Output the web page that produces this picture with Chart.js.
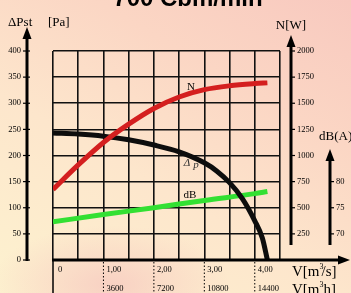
<!DOCTYPE html>
<html><head><meta charset="utf-8">
<script src="https://cdn.jsdelivr.net/npm/chart.js@4/dist/chart.umd.min.js"></script>
<style>
html,body{margin:0;padding:0;}
body{width:351px;height:293px;overflow:hidden;
background:
 radial-gradient(ellipse 120px 60px at 110px 285px, rgba(246,196,190,0.7), rgba(246,196,190,0)),
 linear-gradient(30deg,#fdf2cf 0%,#fde6cc 40%,#fbd6c4 70%,#f8c9bf 100%);}
#wrap{position:absolute;left:0;top:0;width:351px;height:293px;}
</style></head>
<body><div id="wrap"><canvas id="c" width="351" height="293"></canvas></div>
<script>
// ---- data ----
const flowPressure = [0, 0.5, 1, 1.5, 2, 2.5, 3, 3.25, 3.5, 3.75, 4, 4.15, 4.25];
const pressurePa  = [243, 241, 237, 230, 220, 207, 186, 170, 148, 118, 75, 42, 0];
const flowPower   = [0, 0.5, 1, 1.5, 2, 2.5, 3, 3.5, 4, 4.25];
const powerW      = [675, 910, 1125, 1300, 1450, 1560, 1630, 1667, 1688, 1695];
const flowNoise   = [0, 1, 2, 3, 4, 4.25];
const noiseDB     = [72.3, 73.7, 75.0, 76.4, 77.7, 78.1];

const paTicks   = [0, 50, 100, 150, 200, 250, 300, 350, 400];
const nTicks    = [250, 500, 750, 1000, 1250, 1500, 1750, 2000];
const dbTicks   = [70, 75, 80];
const flowTickValues = [0, 1, 2, 3, 4];
const flowTickLabels = ['0', '1,00', '2,00', '3,00', '4,00'];
const flowHourLabels = ['', '3600', '7200', '10800', '14400'];

const title = '700 Cbm/min';
const serif = '"Liberation Serif","DejaVu Serif",serif';

function pts(xs, ys){ return xs.map((x,i)=>({x:x, y:ys[i]})); }

function arrowUp(ctx, x, y){
  ctx.beginPath(); ctx.moveTo(x, y); ctx.lineTo(x-4.5, y+12); ctx.lineTo(x+4.5, y+12); ctx.closePath(); ctx.fill();
}
function arrowRight(ctx, x, y){
  ctx.beginPath(); ctx.moveTo(x, y); ctx.lineTo(x-12, y-4.5); ctx.lineTo(x-12, y+4.5); ctx.closePath(); ctx.fill();
}

const decor = {
  id: 'decor',
  afterDraw(chart){
    const ctx = chart.ctx;
    const sx = chart.scales.x, sy = chart.scales.y, sn = chart.scales.yN, sd = chart.scales.yDB;
    const y0 = sy.getPixelForValue(0);
    ctx.save();
    ctx.fillStyle = '#000'; ctx.strokeStyle = '#000';
    // title (cut off at top)
    ctx.font = 'bold 24px "Liberation Sans",Arial,sans-serif';
    ctx.textAlign = 'center'; ctx.textBaseline = 'alphabetic';
    ctx.fillText(title, 188, 6);

    // left axis
    const lx = 27;
    ctx.lineWidth = 3;
    ctx.beginPath(); ctx.moveTo(lx, y0+1); ctx.lineTo(lx, 36); ctx.stroke();
    arrowUp(ctx, lx, 27);
    ctx.font = '8.5px ' + serif; ctx.textAlign = 'right'; ctx.textBaseline = 'middle';
    ctx.lineWidth = 1.2;
    paTicks.forEach(v => {
      const p = sy.getPixelForValue(v);
      ctx.beginPath(); ctx.moveTo(lx-4, p); ctx.lineTo(lx+3, p); ctx.stroke();
      ctx.fillText(String(v), lx-6, p);
    });
    ctx.font = '13px ' + serif; ctx.textAlign = 'left'; ctx.textBaseline = 'alphabetic';
    ctx.fillText('\u0394Pst', 8, 26);
    ctx.fillText('[Pa]', 48, 26);

    // N axis
    const nx = 291;
    ctx.lineWidth = 3;
    ctx.beginPath(); ctx.moveTo(nx, 245); ctx.lineTo(nx, 44); ctx.stroke();
    arrowUp(ctx, nx, 35);
    ctx.lineWidth = 1.2;
    ctx.font = '8.5px ' + serif; ctx.textAlign = 'left'; ctx.textBaseline = 'middle';
    nTicks.forEach(v => {
      const p = sn.getPixelForValue(v);
      ctx.beginPath(); ctx.moveTo(nx, p); ctx.lineTo(nx+4, p); ctx.stroke();
      ctx.fillText(String(v), nx+6, p);
    });
    ctx.font = '13px ' + serif; ctx.textAlign = 'center'; ctx.textBaseline = 'alphabetic';
    ctx.fillText('N[W]', 291, 29);

    // dB axis
    const dx = 330;
    ctx.lineWidth = 3;
    ctx.beginPath(); ctx.moveTo(dx, 245); ctx.lineTo(dx, 158); ctx.stroke();
    arrowUp(ctx, dx, 149);
    ctx.lineWidth = 1.2;
    ctx.font = '8.5px ' + serif; ctx.textAlign = 'left'; ctx.textBaseline = 'middle';
    dbTicks.forEach(v => {
      const p = sd.getPixelForValue(v);
      ctx.beginPath(); ctx.moveTo(dx, p); ctx.lineTo(dx+4, p); ctx.stroke();
      ctx.fillText(String(v), dx+6, p);
    });
    ctx.font = '13px ' + serif; ctx.textAlign = 'left'; ctx.textBaseline = 'alphabetic';
    ctx.fillText('dB(A)', 319, 140);

    // x axis
    ctx.lineWidth = 3;
    ctx.beginPath(); ctx.moveTo(sx.getPixelForValue(0)-1, y0); ctx.lineTo(340, y0); ctx.stroke();
    arrowRight(ctx, 350, y0);
    // below-axis verticals
    ctx.lineWidth = 1.5;
    ctx.beginPath(); ctx.moveTo(sx.getPixelForValue(0), y0); ctx.lineTo(sx.getPixelForValue(0), 293); ctx.stroke();
    ctx.lineWidth = 1;
    ctx.setLineDash([1.5, 2]);
    flowTickValues.slice(1).forEach(v => {
      const p = sx.getPixelForValue(v);
      ctx.beginPath(); ctx.moveTo(p, y0+2); ctx.lineTo(p, 293); ctx.stroke();
    });
    ctx.setLineDash([]);
    ctx.lineWidth = 1.2;
    ctx.font = '8.5px ' + serif; ctx.textAlign = 'left'; ctx.textBaseline = 'middle';
    flowTickValues.forEach((v, i) => {
      const p = sx.getPixelForValue(v);
      ctx.fillText(flowTickLabels[i], p + (i === 0 ? 5 : 3), 270);
      if (flowHourLabels[i]) ctx.fillText(flowHourLabels[i], p + 3, 289);
    });
    ctx.font = '15px ' + serif; ctx.textAlign = 'left'; ctx.textBaseline = 'alphabetic';
    ctx.fillText('V[m', 292, 276);
    let w = ctx.measureText('V[m').width;
    ctx.font = '8px ' + serif; ctx.fillText('3', 292 + w, 269);
    ctx.font = '15px ' + serif; ctx.fillText('/s]', 292 + w + 2, 276);
    ctx.fillText('V[m', 292, 294);
    ctx.font = '8px ' + serif; ctx.fillText('3', 292 + w, 287);
    ctx.font = '15px ' + serif; ctx.fillText('h]', 292 + w + 4, 294);

    // curve labels
    ctx.font = '11px ' + serif; ctx.textAlign = 'center';
    ctx.fillText('N', 191, 90);
    ctx.fillText('dB', 190, 198);
    ctx.fillStyle = '#333';
    ctx.font = 'italic 11px ' + serif;
    ctx.fillText('\u0394', 187, 166);
    ctx.fillText('p', 196, 168);
    ctx.restore();
  }
};

new Chart(document.getElementById('c'), {
  type: 'scatter',
  data: {
    datasets: [
      { data: pts(flowPower, powerW), yAxisID: 'yN', showLine: true, borderColor: '#d41f1f', borderWidth: 5, pointRadius: 0, cubicInterpolationMode: 'monotone', borderCapStyle: 'butt' },
      { data: pts(flowPressure, pressurePa), yAxisID: 'y', showLine: true, borderColor: '#0d0d0d', borderWidth: 5, pointRadius: 0, cubicInterpolationMode: 'monotone' },
      { data: pts(flowNoise, noiseDB), yAxisID: 'yDB', showLine: true, borderColor: '#33e033', borderWidth: 5, pointRadius: 0, cubicInterpolationMode: 'monotone' }
    ]
  },
  options: {
    responsive: false, animation: false, devicePixelRatio: 1,
    layout: { padding: { left: 53, right: 71, top: 51, bottom: 33 } },
    plugins: { legend: { display: false }, tooltip: { enabled: false } },
    scales: {
      x: { type: 'linear', min: 0, max: 4.5, position: 'bottom',
           ticks: { display: false, stepSize: 0.5 },
           grid: { color: '#111', lineWidth: 1.6, drawTicks: false },
           border: { display: false },
           afterFit: s => { s.height = 0; } },
      y: { min: 0, max: 400, position: 'left',
           ticks: { display: false, stepSize: 50 },
           grid: { color: '#111', lineWidth: 1.6, drawTicks: false },
           border: { display: false },
           afterFit: s => { s.width = 0; } },
      yN: { min: 0, max: 2000, display: false },
      yDB: { min: 65, max: 105, display: false }
    }
  },
  plugins: [decor]
});
</script></body></html>
